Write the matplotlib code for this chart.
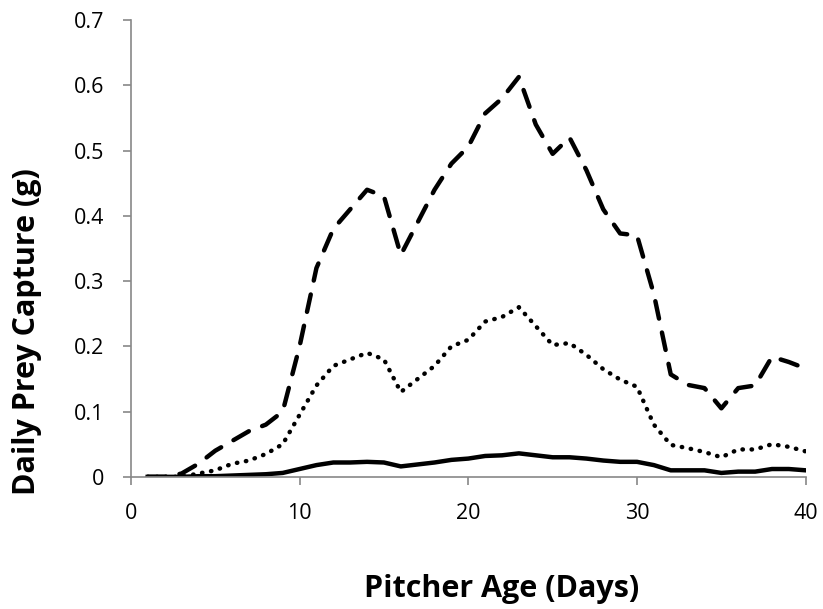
import numpy as np
import matplotlib.pyplot as plt

days = np.arange(1, 41)

# dashed series
high = [0, 0, 0.005, 0.02, 0.04, 0.055, 0.07, 0.08, 0.1, 0.2,
        0.32, 0.38, 0.41, 0.44, 0.43, 0.34, 0.39, 0.44, 0.48, 0.506,
        0.557, 0.58, 0.613, 0.54, 0.495, 0.52, 0.47, 0.41, 0.373, 0.37,
        0.28, 0.157, 0.141, 0.136, 0.105, 0.136, 0.14, 0.184, 0.176, 0.166]
# dotted series
mid = [0, 0, 0, 0.005, 0.01, 0.02, 0.025, 0.035, 0.05, 0.095,
       0.14, 0.17, 0.18, 0.19, 0.18, 0.13, 0.15, 0.17, 0.2, 0.21,
       0.238, 0.245, 0.26, 0.231, 0.202, 0.205, 0.187, 0.165, 0.149, 0.138,
       0.08, 0.049, 0.044, 0.038, 0.03, 0.042, 0.042, 0.05, 0.046, 0.039]
# solid series
low = [0, 0, 0, 0.001, 0.001, 0.002, 0.003, 0.004, 0.006, 0.012,
       0.018, 0.022, 0.022, 0.023, 0.022, 0.016, 0.019, 0.022, 0.026, 0.028,
       0.032, 0.033, 0.036, 0.033, 0.03, 0.03, 0.028, 0.025, 0.023, 0.023,
       0.018, 0.01, 0.01, 0.01, 0.006, 0.008, 0.008, 0.012, 0.012, 0.01]

plt.rcParams['font.family'] = ['Open Sans', 'DejaVu Sans']

fig = plt.figure(figsize=(8.23, 6.09), dpi=100)
ax = fig.add_axes([0.159, 0.217, 0.82, 0.75])

ax.plot(days, high, color='black', lw=3.2, dashes=(4, 3.2), dash_capstyle='round')
ax.plot(days, mid, color='black', lw=3.2, dashes=(0.1, 1.95), dash_capstyle='round')
ax.plot(days, low, color='black', lw=3.2, solid_joinstyle='round')

ax.set_xlim(0, 40)
ax.set_ylim(0, 0.7)
ax.set_xticks([0, 10, 20, 30, 40])
ax.set_yticks(np.arange(0, 0.71, 0.1))
ax.set_yticklabels(['0', '0.1', '0.2', '0.3', '0.4', '0.5', '0.6', '0.7'])

for s in ['top', 'right']:
    ax.spines[s].set_visible(False)
for s in ['left', 'bottom']:
    ax.spines[s].set_color('#888888')
    ax.spines[s].set_linewidth(1.2)
ax.tick_params(axis='both', colors='#888888', labelcolor='black', labelsize=15.5,
               length=6, width=1.2, pad=13)

fig.text(0.609, 0.0197, 'Pitcher Age (Days)', ha='center', va='baseline',
         fontsize=22, fontweight='bold')
fig.text(0.033, 0.455, 'Daily Prey Capture (g)', ha='center', va='center',
         rotation=90, fontsize=22, fontweight='bold')

plt.savefig('out.png', dpi=100)
plt.close()
